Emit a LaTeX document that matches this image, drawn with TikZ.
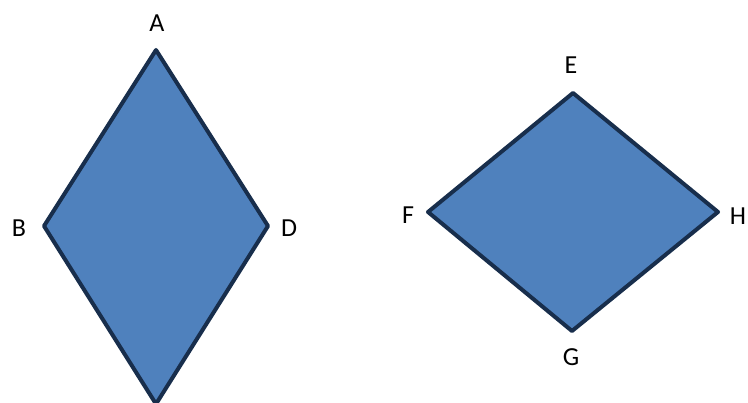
\documentclass[tikz,border=0pt]{standalone}
\usepackage{fontspec}
\setmainfont{Carlito}
\definecolor{rfill}{RGB}{79,129,189}
\definecolor{rline}{RGB}{24,46,76}
\tikzset{rhomb/.style={fill=rfill,draw=rline,line width=4pt,line join=round},
  lbl/.style={font=\fontsize{26}{30}\selectfont,text=black,inner sep=0pt}}
\begin{document}
\begin{tikzpicture}[x=1pt,y=-1pt]
\useasboundingbox (0,0) rectangle (748,403);
\clip (0,0) rectangle (748,403);
\coordinate (A) at (156,50);
\coordinate (B) at (44,226);
\coordinate (C) at (156,404);
\coordinate (D) at (268,226);
\coordinate (E) at (573,93);
\coordinate (F) at (428,212);
\coordinate (G) at (572,331);
\coordinate (H) at (718,212);
\draw[rhomb] (A) -- (B) -- (C) -- (D) -- cycle;
\draw[rhomb] (E) -- (F) -- (G) -- (H) -- cycle;
\node[lbl] (la) at (157,23) {A};
\node[lbl] (lb) at (19,228) {B};
\node[lbl] (ld) at (289,228) {D};
\node[lbl] (le) at (571,65) {E};
\node[lbl] (lf) at (408,215) {F};
\node[lbl] (lh) at (738,216) {H};
\node[lbl] (lg) at (571,357) {G};
\end{tikzpicture}
\end{document}
